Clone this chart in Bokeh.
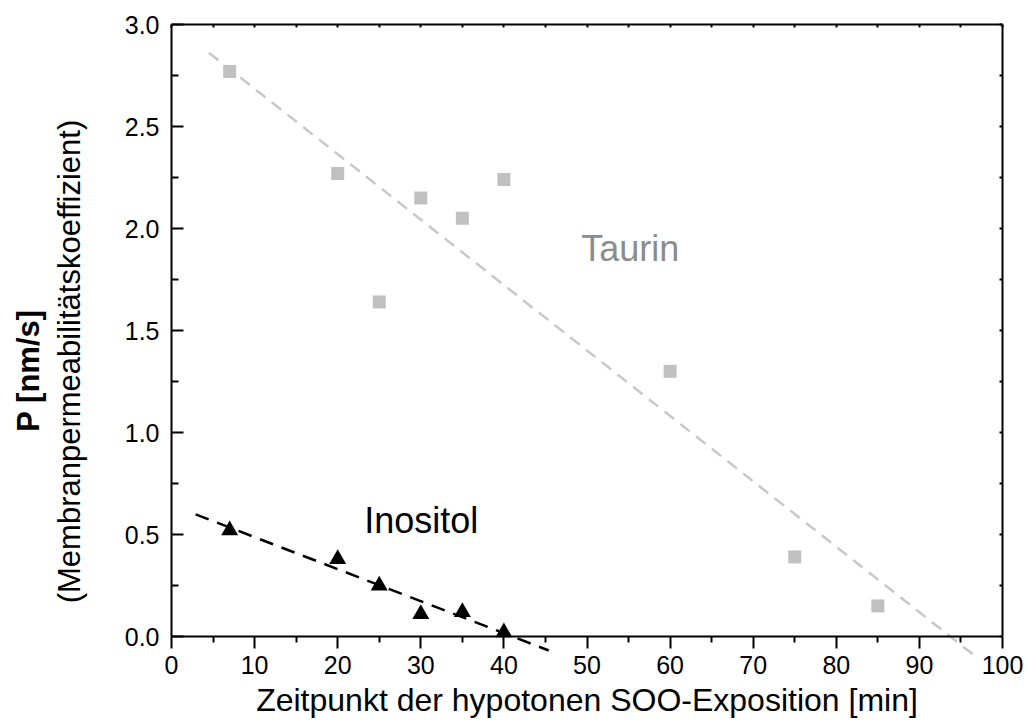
import numpy as np
from bokeh.plotting import figure
from bokeh.models import (LinearAxis, FixedTicker, NumeralTickFormatter, Label,
                          Range1d, CustomJSTickFormatter)
from bokeh.embed import file_html
from bokeh.resources import INLINE

# ---------------- data ----------------
taurin_t = [7, 20, 25, 30, 35, 40, 60, 75, 85]
taurin_p = [2.77, 2.27, 1.64, 2.15, 2.05, 2.24, 1.30, 0.39, 0.15]
inositol_t = [7, 20, 25, 30, 35, 40]
inositol_p = [0.52, 0.38, 0.25, 0.11, 0.12, 0.02]
taurin_fit_span = [4.5, 97.0]
inositol_fit_span = [2.9, 45.4]

x_ticks = [0, 10, 20, 30, 40, 50, 60, 70, 80, 90, 100]
x_minor = [5, 15, 25, 35, 45, 55, 65, 75, 85, 95]
y_ticks = [0.0, 0.5, 1.0, 1.5, 2.0, 2.5, 3.0]
y_minor = [0.25, 0.75, 1.25, 1.75, 2.25, 2.75]
top_ticks = [0, 5, 10, 15, 20, 25, 30, 35, 40, 45, 50, 55, 60, 65, 70, 75, 80, 85, 90, 95, 100]
right_ticks = [0.0, 0.25, 0.5, 0.75, 1.0, 1.25, 1.5, 1.75, 2.0, 2.25, 2.5, 2.75, 3.0]

x_title = "Zeitpunkt der hypotonen SOO-Exposition [min]"
y_title_1 = "P [nm/s]"
y_title_2 = "(Membranpermeabilitätskoeffizient)"

FONT = "Liberation Sans"
GRAY_MARK = "#c0c0c0"
GRAY_LINE = "#c8c8c8"
GRAY_TEXT = "#8c8c8c"

# ---------------- geometry (frame covers the whole canvas) ----------------
W, H = 1027, 725
X0_PX, X100_PX = 171, 1002      # screen columns of t = 0 and t = 100
Y3_PX, Y0_PX = 24, 636          # screen rows of P = 3.0 and P = 0
X_LO, X_HI = 0, 100
Y_LO, Y_HI = 0.0, 3.0
PX_X = (X100_PX - X0_PX) / (X_HI - X_LO)
PX_Y = (Y0_PX - Y3_PX) / (Y_HI - Y_LO)
x_start = X_LO - X0_PX / PX_X
x_end = X_HI + (W - X100_PX) / PX_X
y_start = Y_LO - (H - Y0_PX) / PX_Y
y_end = Y_HI + Y3_PX / PX_Y


def dx(sx):
    return X_LO + (sx - X0_PX) / PX_X


def dy(sy):
    return Y_LO + (Y0_PX - sy) / PX_Y


p = figure(width=W, height=H,
           x_range=Range1d(x_start, x_end), y_range=Range1d(y_start, y_end),
           output_backend="svg", toolbar_location=None, min_border=0)
p.outline_line_color = None
p.grid.visible = False


def style(ax):
    ax.axis_line_width = 2
    ax.major_tick_line_width = 2
    ax.minor_tick_line_width = 2
    ax.major_label_text_font = FONT
    ax.major_label_text_font_size = "25px"
    ax.major_label_text_color = "black"


# bottom axis at P = 0
xa = p.xaxis[0]
style(xa)
xa.fixed_location = Y_LO
xa.bounds = (X_LO, X_HI)
xa.ticker = FixedTicker(ticks=x_ticks, minor_ticks=x_minor)
xa.major_tick_in = 0
xa.major_tick_out = 12
xa.minor_tick_in = 0
xa.minor_tick_out = 6
xa.major_label_standoff = 7
xa.axis_label = x_title
xa.axis_label_text_font = FONT
xa.axis_label_text_font_style = "normal"
xa.axis_label_text_font_size = "32px"
xa.axis_label_text_color = "black"
xa.axis_label_standoff = 5

# left axis at t = 0
ya = p.yaxis[0]
style(ya)
ya.fixed_location = X_LO
ya.bounds = (Y_LO, Y_HI)
ya.ticker = FixedTicker(ticks=y_ticks, minor_ticks=y_minor)
ya.formatter = NumeralTickFormatter(format="0.0")
ya.major_tick_in = 12
ya.major_tick_out = 0
ya.minor_tick_in = 7
ya.minor_tick_out = 0
ya.major_label_standoff = 12

blank = CustomJSTickFormatter(code="return ''")

# top axis at P = 3
ta = LinearAxis(ticker=FixedTicker(ticks=top_ticks), formatter=blank,
                fixed_location=Y_HI, bounds=(X_LO, X_HI))
style(ta)
ta.major_tick_in = 3
ta.major_tick_out = 0
ta.minor_tick_in = 0
ta.minor_tick_out = 0
ta.major_label_standoff = 0
p.add_layout(ta, "above")

# right axis at t = 100
ra = LinearAxis(ticker=FixedTicker(ticks=right_ticks), formatter=blank,
                fixed_location=X_HI, bounds=(Y_LO, Y_HI))
style(ra)
ra.major_tick_in = 3
ra.major_tick_out = 0
ra.minor_tick_in = 0
ra.minor_tick_out = 0
ra.major_label_standoff = 0
p.add_layout(ra, "right")

# fit lines (linear regression of the data)
tk, td = np.polyfit(taurin_t, taurin_p, 1)
ik, idd = np.polyfit(inositol_t, inositol_p, 1)
taurin_fit_x = np.array(taurin_fit_span)
inositol_fit_x = np.array(inositol_fit_span)

p.line(taurin_fit_x, tk * taurin_fit_x + td,
       line_color=GRAY_LINE, line_width=2.5, line_dash="12 8")
p.line(inositol_fit_x, ik * inositol_fit_x + idd,
       line_color="black", line_width=2.5, line_dash="14 9")

# markers
p.scatter(taurin_t, taurin_p, marker="square", size=13,
          fill_color=GRAY_MARK, line_color=None)
p.scatter(inositol_t, inositol_p, marker="triangle", size=17,
          fill_color="black", line_color=None)

# series labels
p.add_layout(Label(x=49.3, y=1.90, text="Taurin", text_font=FONT,
                   text_font_size="36px", text_color=GRAY_TEXT,
                   text_align="left", text_baseline="alphabetic"))
p.add_layout(Label(x=23.2, y=0.569, text="Inositol", text_font=FONT,
                   text_font_size="36px", text_color="black",
                   text_align="left", text_baseline="alphabetic"))

# y-axis titles (two lines, left of the tick labels)
p.add_layout(Label(x=dx(27.5), y=dy(370), text=y_title_1, angle=np.pi / 2,
                   text_font=FONT, text_font_style="bold", text_font_size="31px",
                   text_color="black", text_align="center", text_baseline="middle"))
p.add_layout(Label(x=dx(69), y=dy(361), text=y_title_2, angle=np.pi / 2,
                   text_font=FONT, text_font_size="31px",
                   text_color="black", text_align="center", text_baseline="middle"))

open("out.html", "w").write(file_html(p, INLINE))
